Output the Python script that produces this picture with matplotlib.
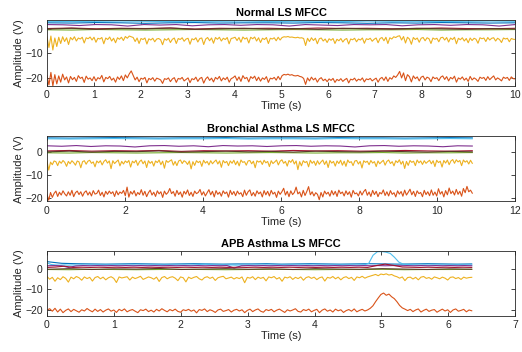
import numpy as np
import matplotlib
matplotlib.use("Agg")
import matplotlib.pyplot as plt

plt.rcParams['font.family'] = ['Liberation Sans', 'DejaVu Sans']

# ---------------- data ----------------
titles = ["Normal LS MFCC", "Bronchial Asthma LS MFCC", "APB Asthma LS MFCC"]
durations = [10.0, 10.9, 6.35]
xlims = [(0, 10), (0, 12), (0, 7)]
xticks = [list(range(0, 11)), [0, 2, 4, 6, 8, 10, 12], list(range(0, 8))]
ylims = [(-23.0, 3.4), (-21.3, 6.6), (-22.8, 8.4)]
yticks = [-20, -10, 0]

red1 = [-18.8,-22.6,-17.6,-23.0,-18.5,-22.2,-19.0,-21.5,-18.3,-20.6,-19.4,-21.8,
        -19.2,-20.5,-19.6,-21.2,-18.9,-20.0,-19.5,-21.6,-19.1,-20.3,-19.8,-20.9,
        -19.3,-21.0,-19.7,-20.2,-18.8,-21.4,-19.6,-20.1,-19.2,-20.7,-19.9,-21.5,
        -19.4,-20.4,-19.0,-20.9,-18.6,-19.8,-18.2,-17.0,-18.8,-20.6,-19.5,-21.3,
        -19.9,-20.3,-19.6,-21.8,-20.0,-20.5,-19.7,-21.1,-19.9,-20.2,-20.6,-22.0,
        -20.1,-20.4,-19.8,-21.3,-20.2,-19.7,-21.6,-20.0,-20.3,-19.6,-21.0,-20.4,
        -19.8,-21.7,-20.1,-20.5,-19.5,-21.2,-20.0,-19.6,-21.9,-20.2,-19.4,-20.8,
        -19.9,-21.4,-19.6,-20.3,-19.2,-21.0,-19.8,-20.5,-19.5,-21.5,-20.1,-19.7,
        -19.0,-20.8,-19.4,-21.2,-18.9,-20.1,-19.6,-21.4,-19.3,-20.0,-19.1,-20.9,
        -19.5,-21.1,-19.8,-20.4,-19.3,-21.6,-19.9,-20.2,-19.6,-20.7,-19.2,-20.5,
        -18.9,-18.4,-18.6,-18.3,-18.7,-18.5,-18.9,-19.0,-18.8,-19.2,-19.4,-20.0,
        -22.4,-19.8,-21.0,-19.5,-20.6,-19.9,-21.5,-20.2,-19.7,-20.9,-20.3,-21.3,
        -20.2,-20.8,-20.0,-21.6,-20.4,-20.9,-20.1,-21.2,-20.5,-20.0,-21.8,-20.3,
        -20.6,-19.9,-21.1,-20.3,-20.7,-19.8,-21.4,-20.2,-20.5,-20.0,-21.0,-20.4,
        -19.9,-21.5,-20.1,-19.6,-20.8,-19.4,-21.2,-19.7,-20.3,-19.0,-19.6,-18.6,
        -17.2,-19.8,-17.8,-20.9,-18.5,-19.3,-21.4,-19.0,-20.1,-19.4,-21.0,-19.5,
        -19.1,-20.6,-19.5,-19.9,-21.3,-19.4,-20.1,-19.7,-20.9,-19.5,-19.0,-20.4,
        -19.3,-21.0,-19.6,-20.2,-19.1,-21.5,-19.8,-20.3,-19.4,-20.7,-19.9,-21.2,
        -19.2,-20.6,-19.8,-20.3,-21.2,-19.5,-20.0,-19.6,-20.8,-19.3,-20.5,-19.7,
        -19.0,-20.6,-19.8,-20.3,-21.0,-19.5,-20.0,-19.6,-20.8,-19.4,-20.1,-20.2]
yel1 = [-3.4,-7.6,-3.0,-8.6,-3.8,-7.2,-3.5,-6.0,-3.3,-5.2,-3.7,-6.4,
        -3.6,-4.5,-3.3,-5.0,-3.8,-4.2,-3.5,-5.8,-3.7,-4.1,-3.4,-4.6,
        -3.5,-5.5,-3.9,-4.2,-3.6,-6.1,-3.8,-4.4,-3.4,-5.0,-3.9,-5.7,
        -3.7,-4.3,-3.5,-4.8,-3.2,-3.9,-3.0,-3.3,-3.6,-5.2,-3.8,-6.0,
        -4.0,-4.4,-3.8,-6.2,-4.1,-4.6,-3.9,-5.3,-4.2,-4.0,-4.5,-6.5,
        -4.1,-4.7,-3.9,-5.6,-4.3,-3.8,-6.0,-4.0,-4.4,-3.7,-5.1,-4.2,
        -3.9,-6.3,-4.1,-4.5,-3.7,-5.4,-4.0,-3.8,-6.4,-4.2,-3.6,-4.9,
        -3.8,-5.9,-3.6,-4.3,-3.5,-5.0,-3.9,-4.4,-3.6,-6.1,-4.0,-3.8,
        -3.5,-4.8,-3.6,-5.5,-3.4,-4.2,-3.7,-5.8,-3.5,-4.1,-3.4,-5.0,
        -3.7,-5.6,-3.9,-4.4,-3.6,-6.0,-3.9,-4.2,-3.7,-4.9,-3.5,-4.6,
        -3.6,-3.3,-3.4,-3.2,-3.5,-3.4,-3.6,-3.7,-3.5,-3.8,-3.7,-4.0,
        -6.8,-3.9,-5.2,-3.7,-4.8,-3.9,-6.1,-4.1,-3.8,-5.0,-4.2,-5.6,
        -4.1,-4.7,-4.0,-6.0,-4.3,-4.9,-4.0,-5.4,-4.4,-4.0,-6.2,-4.2,
        -4.5,-3.9,-5.3,-4.2,-4.6,-3.8,-5.9,-4.1,-4.4,-3.9,-5.1,-4.3,
        -3.8,-5.7,-4.0,-3.6,-4.9,-3.5,-6.0,-3.7,-4.2,-3.3,-3.6,-3.1,
        -2.9,-4.6,-3.2,-5.8,-3.5,-4.2,-6.3,-3.6,-4.4,-3.8,-5.5,-3.9,
        -3.6,-4.9,-3.7,-4.1,-6.0,-3.8,-4.3,-3.9,-5.3,-3.7,-3.5,-4.6,
        -3.6,-5.4,-3.8,-4.4,-3.5,-6.1,-3.9,-4.5,-3.7,-5.0,-4.0,-5.7,
        -3.8,-4.8,-3.9,-4.3,-5.9,-3.7,-4.1,-3.8,-5.2,-3.6,-4.6,-3.9,
        -3.7,-5.0,-3.9,-4.4,-5.6,-3.8,-4.2,-3.9,-5.3,-4.0,-4.3,-4.4]
blue1 = [2.3,2.2,2.4,2.3,2.1,2.3,2.4,2.2,2.3,2.3,2.2,2.4,2.3,2.1,2.3,2.2,2.4,2.3,2.2,2.3]
purp1 = [1.6,1.5,1.2,1.6,1.5,1.0,1.6,1.4,1.6,1.1,1.5,1.6,1.3,1.6,1.5,1.0,1.6,1.4,1.2,1.6,
         1.5,1.6,1.1,1.5,1.6,1.3,1.6,1.5,1.0,1.6]
cyan1 = [2.9,2.8,2.9,3.0,2.9,2.8,2.9,2.9,3.0,2.8,2.9,2.9,2.8,3.0,2.9,2.9,2.8,2.9,3.0,2.9]
green1 = [-0.5,-0.6,-0.4,-0.5,-0.6,-0.5,-0.4,-0.5,-0.6,-0.5,-0.4,-0.5,-0.6,-0.5,-0.5,-0.4,-0.6,-0.5,-0.5,-0.4]
dred1 = [0.0,0.2,-0.1,0.1,0.0,0.2,-0.2,0.1,0.0,0.1,-0.1,0.2,0.0,0.1,-0.1,0.0,0.2,0.0,-0.1,0.1]
zero1 = [-0.2,0.1,-0.3,0.0,-0.1,0.2,-0.3,-0.1,0.1,-0.2,0.0,-0.3,0.1,-0.1,-0.2,0.1,-0.1,-0.3,0.0,-0.2]

red2 = [-18.3,-20.8,-17.5,-19.6,-17.9,-16.9,-19.2,-17.4,-18.6,-16.8,-18.1,-19.0,
        -17.2,-18.7,-16.6,-19.3,-17.6,-16.9,-18.4,-17.2,-19.1,-17.5,-16.8,-18.6,
        -17.3,-19.0,-16.7,-18.2,-17.9,-16.5,-18.8,-17.4,-19.4,-17.0,-18.3,-16.9,
        -18.0,-17.2,-19.2,-16.8,-18.5,-17.3,-17.9,-16.6,-18.9,-15.2,-19.5,-17.1,
        -18.2,-16.7,-19.0,-17.5,-18.4,-16.3,-18.7,-17.0,-19.3,-17.6,-16.5,-18.6,
        -17.4,-19.2,-16.8,-18.1,-17.2,-19.6,-16.9,-18.3,-17.5,-15.8,-18.0,-17.1,
        -19.1,-16.6,-18.4,-17.3,-19.5,-17.0,-18.2,-16.4,-18.8,-17.4,-19.2,-16.9,
        -18.0,-17.5,-16.2,-18.6,-17.2,-19.0,-17.6,-16.3,-18.5,-17.0,-19.4,-16.7,
        -18.3,-17.4,-19.1,-16.8,-18.0,-17.3,-19.5,-16.6,-18.4,-17.1,-18.9,-16.9,
        -18.2,-17.6,-19.3,-16.5,-18.7,-17.2,-16.4,-18.9,-17.5,-19.1,-16.8,-18.1,
        -17.3,-19.4,-16.7,-18.5,-17.0,-19.0,-16.6,-18.2,-17.4,-19.6,-16.9,-18.3,
        -17.2,-15.7,-18.6,-17.0,-19.3,-16.8,-18.4,-17.5,-15.2,-18.1,-17.3,-19.4,
        -16.6,-18.8,-17.1,-15.0,-18.5,-17.2,-19.0,-17.6,-18.3,-20.6,-17.5,-19.4,
        -16.9,-18.2,-17.4,-19.1,-16.7,-18.5,-17.0,-19.2,-16.5,-18.0,-17.3,-19.0,
        -16.8,-18.4,-17.2,-19.5,-16.6,-18.1,-17.7,-19.0,-16.9,-18.6,-17.1,-16.2,
        -18.7,-17.3,-19.2,-16.6,-18.4,-17.0,-19.3,-17.5,-18.1,-16.4,-18.8,-17.2,
        -19.0,-16.7,-18.3,-17.6,-19.4,-16.8,-18.2,-17.1,-19.1,-16.5,-18.6,-17.4,
        -16.1,-18.5,-17.0,-19.2,-16.8,-18.0,-17.5,-19.3,-16.6,-18.4,-17.2,-18.9,
        -16.4,-18.7,-17.3,-19.0,-15.9,-18.2,-17.1,-19.4,-16.7,-18.5,-15.6,-18.0,
        -16.9,-18.6,-16.2,-18.3,-17.0,-19.1,-15.8,-17.6,-14.9,-17.2,-16.5,-17.8]
yel2 = [-4.1,-7.9,-4.5,-5.6,-4.0,-4.3,-6.0,-4.1,-5.0,-3.8,-4.6,-6.3,
        -4.2,-5.2,-3.9,-4.7,-5.8,-4.0,-4.4,-6.9,-4.3,-3.9,-5.4,-4.1,
        -3.7,-5.0,-4.4,-6.5,-4.0,-4.8,-3.9,-5.7,-4.2,-3.5,-4.9,-4.0,
        -7.3,-3.9,-5.1,-4.3,-3.6,-6.1,-4.2,-5.3,-4.0,-4.7,-3.8,-6.6,
        -4.1,-4.8,-3.7,-5.9,-4.3,-3.6,-5.2,-4.0,-6.8,-3.9,-5.0,-4.2,
        -6.2,-4.0,-4.7,-3.6,-5.6,-4.1,-7.1,-3.8,-4.6,-4.0,-3.5,-5.8,
        -4.2,-6.0,-4.0,-3.6,-5.1,-3.9,-4.4,-5.5,-4.0,-7.4,-4.3,-5.9,
        -3.9,-4.7,-4.1,-6.3,-3.7,-4.9,-4.2,-5.7,-3.9,-5.2,-4.3,-3.6,
        -5.3,-4.0,-6.7,-3.8,-4.8,-4.2,-6.0,-4.0,-5.0,-3.7,-5.6,-4.1,
        -6.1,-3.6,-4.6,-4.3,-5.8,-4.0,-3.8,-5.2,-4.1,-6.9,-3.9,-4.5,
        -4.0,-5.5,-3.7,-4.8,-4.2,-6.4,-3.9,-5.1,-4.4,-3.6,-5.7,-4.1,
        -3.5,-5.0,-4.2,-6.2,-3.8,-4.6,-3.4,-5.3,-4.0,-7.7,-4.3,-6.1,
        -3.9,-4.7,-4.2,-6.5,-3.7,-5.0,-4.1,-5.9,-3.9,-5.4,-4.4,-3.6,
        -5.5,-4.0,-6.8,-3.8,-4.9,-4.2,-6.2,-4.0,-5.1,-3.7,-5.8,-4.1,
        -6.3,-3.6,-4.7,-4.3,-6.0,-4.0,-3.8,-5.3,-4.2,-7.0,-3.9,-4.6,
        -4.1,-5.6,-3.8,-4.9,-4.3,-6.4,-4.0,-5.2,-4.4,-3.7,-5.8,-4.2,
        -3.6,-5.1,-4.3,-6.1,-3.9,-4.7,-3.5,-5.4,-4.1,-7.2,-4.2,-5.9,
        -3.8,-4.6,-4.1,-6.0,-3.6,-4.8,-4.0,-5.5,-3.9,-5.0,-4.3,-3.7,
        -5.2,-3.9,-6.4,-3.7,-4.7,-4.1,-6.6,-3.8,-4.9,-3.6,-5.6,-4.0,
        -3.4,-5.0,-3.5,-4.4,-3.8,-6.0,-3.6,-4.5,-3.9,-5.3,-3.7,-5.0]
blue2 = [5.9,5.8,5.9,6.0,5.9,5.8,5.9,5.9,6.0,5.8,5.9,5.9,5.8,6.0,5.9,5.9,5.8,5.9,6.0,5.9]
cyan2 = [5.5,5.4,5.5,5.6,5.5,5.4,5.5,5.5,5.6,5.4,5.5,5.5,5.4,5.6,5.5,5.5,5.4,5.5,5.6,5.5]
purp2 = [2.5,2.3,2.6,2.2,2.5,2.4,2.0,2.5,2.6,2.3,2.5,2.1,2.6,2.4,2.5,2.2,2.5,2.6,2.3,2.5,
         2.4,2.0,2.5,2.6,2.3,2.5,2.4,2.1,2.5,2.4]
green2 = [-0.5,-0.6,-0.4,-0.5,-0.6,-0.5,-0.4,-0.5,-0.6,-0.5,-0.4,-0.5,-0.6,-0.5,-0.5,-0.4,-0.6,-0.5,-0.5,-0.4]
dred2 = [0.3,0.5,0.2,0.4,0.3,0.5,0.1,0.4,0.3,0.4,0.2,0.5,0.3,0.4,0.2,0.3,0.5,0.3,0.2,0.4]
zero2 = [-0.1,0.2,-0.2,0.1,0.0,0.3,-0.2,0.0,0.2,-0.1,0.1,-0.2,0.2,0.0,-0.1,0.2,0.0,-0.2,0.1,-0.1]

red3 = [-20.1,-19.4,-20.6,-19.2,-21.0,-19.6,-21.3,-20.2,-19.5,-20.8,-19.7,-20.4,
        -21.1,-19.9,-20.5,-19.3,-20.2,-20.9,-19.6,-20.7,-19.8,-21.0,-20.1,-19.5,
        -20.6,-20.0,-21.2,-19.7,-20.4,-19.5,-20.9,-20.2,-19.8,-20.6,-21.3,-19.9,
        -20.3,-19.6,-20.8,-20.1,-21.0,-19.7,-20.5,-19.4,-20.2,-20.9,-19.8,-20.4,
        -19.6,-20.7,-21.1,-19.9,-20.3,-19.7,-20.6,-20.0,-21.4,-19.8,-20.2,-19.5,
        -20.8,-19.9,-20.4,-21.2,-20.0,-19.6,-20.7,-20.3,-19.8,-21.0,-20.1,-19.7,
        -20.5,-19.9,-21.3,-20.2,-19.6,-20.8,-20.0,-19.5,-20.6,-21.1,-19.8,-20.3,
        -19.7,-20.9,-20.1,-19.6,-20.4,-21.2,-19.9,-20.5,-20.0,-19.4,-20.7,-21.0,
        -19.8,-20.3,-19.6,-20.9,-20.2,-19.7,-21.3,-20.1,-19.5,-20.6,-20.0,-21.0,
        -19.6,-20.4,-19.9,-21.2,-20.3,-19.8,-20.6,-19.5,-20.9,-20.2,-19.7,-20.5,
        -20.0,-19.2,-18.0,-16.0,-14.2,-12.5,-11.8,-12.9,-12.3,-13.6,-14.5,-16.0,
        -17.8,-19.0,-19.6,-20.3,-19.7,-20.8,-20.0,-19.5,-21.0,-20.2,-19.6,-20.7,
        -20.1,-19.8,-21.1,-20.3,-19.6,-20.5,-19.9,-21.2,-20.0,-19.5,-20.6,-20.2,
        -19.7,-20.9,-20.0,-20.4]
yel3 = [-3.8,-5.1,-4.2,-6.1,-4.4,-5.3,-3.9,-4.7,-6.5,-4.1,-4.9,-3.8,
        -4.4,-5.6,-4.0,-4.8,-4.2,-6.0,-4.3,-3.8,-4.9,-4.1,-5.4,-4.4,
        -3.9,-4.7,-6.7,-4.0,-4.5,-4.2,-3.9,-5.5,-4.1,-4.8,-4.3,-3.7,
        -5.2,-4.6,-4.0,-4.4,-5.1,-4.1,-6.2,-4.3,-3.8,-4.9,-4.2,-3.9,
        -4.6,-5.8,-4.0,-4.4,-6.4,-4.1,-4.8,-4.2,-3.8,-4.9,-5.5,-4.3,
        -3.9,-4.7,-4.1,-5.7,-4.4,-4.0,-3.7,-4.9,-4.5,-4.1,-5.0,-4.3,
        -4.8,-4.0,-6.8,-4.2,-4.6,-3.9,-5.3,-4.1,-4.7,-4.2,-5.9,-4.0,
        -4.4,-3.8,-5.0,-4.3,-6.1,-4.1,-4.5,-3.9,-5.2,-4.2,-4.8,-4.0,
        -5.6,-4.3,-3.9,-4.7,-4.1,-5.3,-4.4,-4.0,-6.0,-4.2,-4.6,-3.8,
        -4.9,-4.1,-5.4,-4.3,-3.9,-4.8,-4.2,-5.7,-4.0,-4.4,-3.7,-4.6,
        -4.0,-3.6,-3.2,-2.8,-3.4,-2.6,-2.9,-2.5,-3.1,-2.8,-3.5,-3.9,
        -4.6,-4.0,-5.8,-4.3,-4.1,-5.0,-4.2,-5.4,-4.1,-3.8,-4.7,-4.3,
        -5.1,-4.0,-4.4,-4.9,-4.1,-4.6,-5.5,-4.2,-4.0,-4.8,-4.3,-5.2,
        -4.1,-4.6,-4.3,-4.2]
blue3 = [3.4,2.6,2.4,2.3,2.2,2.3,2.4,2.3,2.2,2.3,2.4,2.3,2.2,2.3,2.3,2.4,2.2,2.3,2.4,2.3,
         2.2,2.3,2.4,2.3,2.2,2.3,2.4,2.3,2.2,2.3]
cyan3 = [2.8,2.0,1.8,1.7,1.8,1.7,1.8,1.7,1.8,1.7,
         1.8,1.7,1.8,1.7,1.8,1.7,1.8,1.7,1.8,1.7,
         1.8,1.7,1.8,1.7,1.8,1.7,1.8,1.7,1.8,1.7,
         1.8,1.7,1.8,1.7,1.8,1.9,2.1,2.2,2.0,1.8,
         1.7,1.8,1.7,1.8,1.7,1.8,1.7,1.8,1.7,1.8,
         1.7,1.8,1.7,1.8,1.7,1.8,1.7,1.8,1.7,1.8,
         1.7,1.8,1.7,1.8,1.7,1.8,1.7,1.8,1.7,1.8,
         1.7,1.8,1.7,1.8,1.9,2.6,6.5,8.2,8.3,8.0,
         7.4,5.5,3.2,2.2,2.0,1.9,1.8,1.7,1.8,1.7,
         1.8,1.7,1.8,1.7,1.8,1.7,1.8,1.7,1.8,1.7]
purp3 = [1.4,1.5,1.4,0.6,1.3,1.5,1.4,1.5,1.4,1.5,1.4,1.5,1.4,1.5,1.4,1.5,1.4,1.5,1.4,1.5,
         1.4,1.5,1.4,1.5,1.4,1.5,0.3,1.4,1.5,1.4,1.5,1.4,1.5,1.4,1.5,1.4,1.5,1.4,1.5,1.4,
         1.5,1.4,1.5,1.4,1.5,1.4,1.5,1.4,1.5,1.4,1.5,1.4,1.5,1.4,1.5,1.4,1.5,1.4,1.5,1.4]
dred3 = [0.6,0.8,1.2,0.6,0.7,0.6,0.7,0.6,0.7,0.6,0.7,0.6,0.7,0.6,0.7,0.6,0.7,0.6,0.7,0.6,
         0.7,0.6,0.7,0.6,0.7,0.6,0.7,0.6,0.7,0.6,0.7,0.6,0.7,0.6,0.7,0.6,0.7,0.6,1.5,2.2,
         1.6,0.8,0.7,0.6,0.7,0.6,0.7,0.6,0.7,0.6]
green3 = [-0.4,-0.5,-0.3,-0.4,-0.5,-0.4,-0.3,-0.4,-0.5,-0.4,-0.3,-0.4,-0.5,-0.4,-0.4,-0.3,-0.5,-0.4,-0.4,-0.3]
zero3 = [-0.3,0.0,-0.4,-0.1,-0.2,0.1,-0.4,-0.2,0.0,-0.3,-0.1,-0.4,0.0,-0.2,-0.3,0.0,-0.2,-0.4,-0.1,-0.3]

C_BLUE = '#0072BD'; C_RED = '#D95319'; C_YEL = '#EDB120'; C_PUR = '#7E2F8E'
C_GRN = '#77AC30'; C_CYN = '#4DBEEE'; C_DRD = '#A2142F'

series = [
    [(cyan1, C_CYN), (blue1, C_BLUE), (purp1, C_PUR), (green1, C_GRN), (dred1, C_DRD),
     (zero1, '#5a3a2a'), (yel1, C_YEL), (red1, C_RED)],
    [(blue2, C_BLUE), (cyan2, C_CYN), (purp2, C_PUR), (green2, C_GRN), (dred2, C_DRD),
     (zero2, '#5a3a2a'), (yel2, C_YEL), (red2, C_RED)],
    [(blue3, C_BLUE), (cyan3, C_CYN), (purp3, C_PUR), (dred3, C_DRD), (green3, C_GRN),
     (zero3, '#5a3a2a'), (yel3, C_YEL), (red3, C_RED)],
]

# ---------------- figure ----------------
fig = plt.figure(figsize=(5.22, 3.52), dpi=100)
positions = [
    (0.090, 0.756, 0.897, 0.187),
    (0.090, 0.428, 0.897, 0.185),
    (0.090, 0.103, 0.897, 0.183),
]
txt = '#262626'
for i in range(3):
    ax = fig.add_axes(positions[i])
    for vals, col in series[i]:
        t = np.linspace(0, durations[i], len(vals))
        ax.plot(t, vals, color=col, lw=0.8)
    ax.set_xlim(*xlims[i])
    ax.set_ylim(*ylims[i])
    ax.set_xticks(xticks[i])
    ax.set_yticks(yticks)
    ax.tick_params(direction='in', length=3, width=0.6, top=True, right=True,
                   labelsize=7.5, colors=txt, pad=3)
    for s in ax.spines.values():
        s.set_linewidth(0.6)
        s.set_color(txt)
    ax.set_title(titles[i], fontsize=8, fontweight='bold', color='black', pad=3)
    ax.set_xlabel('Time (s)', fontsize=8, color=txt, labelpad=1)
    ax.set_ylabel('Amplitude (V)', fontsize=8, color=txt, labelpad=1)

fig.savefig('out.png', dpi=100, facecolor='white')
